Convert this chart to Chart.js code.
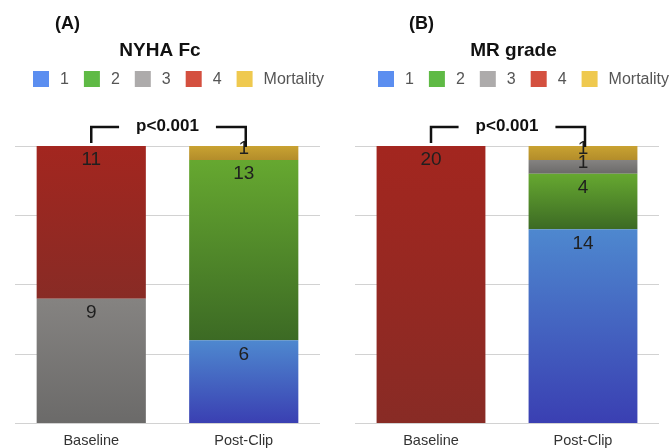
<!DOCTYPE html>
<html>
<head>
<meta charset="utf-8">
<script src="https://cdn.jsdelivr.net/npm/chart.js@4"></script>
<style>
  html, body { margin: 0; padding: 0; background: #fff; overflow: hidden; }
  .wrap { position: relative; width: 670px; height: 448px; }
  .wrap canvas { position: absolute; top: 0; }
</style>
</head>
<body>
<div class="wrap">
  <canvas id="chartA" width="335" height="450" style="left:0"></canvas>
  <canvas id="chartB" width="335" height="450" style="left:335px"></canvas>
</div>
<script>
// data (patients, n = 20)
const categories = ['Baseline', 'Post-Clip'];
const legendLabels = ['1', '2', '3', '4', 'Mortality'];

const nyha1 = [0, 6];
const nyha2 = [0, 13];
const nyha3 = [9, 0];
const nyha4 = [11, 0];
const nyhaMort = [0, 1];

const mr1 = [0, 14];
const mr2 = [0, 4];
const mr3 = [0, 1];
const mr4 = [20, 0];
const mrMort = [0, 1];

const yTicks = [0, 5, 10, 15, 20];
const pValue = 'p<0.001';

// colours: legend swatches are lighter than the shaded bars
const legendColors = ['#5b8ef0', '#5fba45', '#adabab', '#d4503f', '#efc94f'];
const barTop = ['#4e88cf', '#66a830', '#858381', '#a3261f', '#c9a232'];
const barBottom = ['#3a3fb2', '#3c6a24', '#6b6a69', '#882b25', '#b38d2b'];

function segmentFill(k) {
  return function (c) {
    const chart = c.chart;
    const y = chart.scales.y;
    if (!y || c.type !== 'data') return barTop[k];
    const i = c.dataIndex;
    let base = 0;
    for (let d = 0; d < c.datasetIndex; d++) base += chart.data.datasets[d].data[i];
    const v = chart.data.datasets[c.datasetIndex].data[i];
    const y0 = y.getPixelForValue(base + v);
    const y1 = y.getPixelForValue(base);
    if (!isFinite(y0) || !isFinite(y1) || y1 - y0 < 1) return barTop[k];
    const g = chart.ctx.createLinearGradient(0, y0, 0, y1);
    g.addColorStop(0, barTop[k]);
    g.addColorStop(1, barBottom[k]);
    return g;
  };
}

// titles, legend, bracket and value labels
const panelDecor = {
  id: 'panelDecor',
  afterDatasetsDraw(chart, args, o) {
    const ctx = chart.ctx;
    ctx.save();
    ctx.font = '19px "Liberation Sans", Arial, sans-serif';
    ctx.fillStyle = '#1f1f1f';
    ctx.textAlign = 'center';
    ctx.textBaseline = 'middle';
    chart.data.datasets.forEach((ds, d) => {
      chart.getDatasetMeta(d).data.forEach((bar, i) => {
        const v = ds.data[i];
        if (!v) return;
        const h = bar.base - bar.y;
        const cy = h > 30 ? bar.y + 14 : bar.y + 3;
        ctx.fillText(String(v), bar.x, cy);
      });
    });
    ctx.restore();
  },
  afterDraw(chart, args, o) {
    const ctx = chart.ctx;
    ctx.save();
    ctx.fillStyle = '#111';
    ctx.textBaseline = 'alphabetic';

    ctx.font = 'bold 18px "Liberation Sans", Arial, sans-serif';
    ctx.textAlign = 'left';
    ctx.fillText(o.letter, o.letterX, 29);

    ctx.font = 'bold 19px "Liberation Sans", Arial, sans-serif';
    ctx.textAlign = 'center';
    ctx.fillText(o.title, o.titleX, 56);

    // legend
    ctx.font = '16px "Liberation Sans", Arial, sans-serif';
    ctx.textAlign = 'left';
    ctx.textBaseline = 'middle';
    let x = o.legendX;
    legendLabels.forEach((t, k) => {
      ctx.fillStyle = legendColors[k];
      ctx.fillRect(x, 71, 16, 16);
      ctx.fillStyle = '#555';
      ctx.fillText(t, x + 27, 79.5);
      x += 16 + 11 + ctx.measureText(t).width + 15;
    });

    // significance bracket
    const xs = chart.scales.x;
    const xa = xs.getPixelForValue(0), xb = xs.getPixelForValue(1);
    const mid = (xa + xb) / 2;
    ctx.font = 'bold 17px "Liberation Sans", Arial, sans-serif';
    ctx.textAlign = 'center';
    ctx.textBaseline = 'alphabetic';
    ctx.fillStyle = '#111';
    ctx.fillText(pValue, mid, 131);
    const half = ctx.measureText(pValue).width / 2 + 17;
    ctx.strokeStyle = '#111';
    ctx.lineWidth = 2.5;
    ctx.beginPath();
    ctx.moveTo(xa, 143); ctx.lineTo(xa, 127); ctx.lineTo(mid - half, 127);
    ctx.moveTo(mid + half, 127); ctx.lineTo(xb + 2, 127); ctx.lineTo(xb + 2, 147);
    ctx.stroke();
    ctx.restore();
  }
};

function makeChart(id, series, decor, pad) {
  return new Chart(document.getElementById(id), {
    type: 'bar',
    data: {
      labels: categories,
      datasets: series.map((s, k) => ({
        label: legendLabels[k],
        data: s,
        backgroundColor: segmentFill(k),
        borderWidth: 0,
        categoryPercentage: 1,
        barPercentage: 0.716
      }))
    },
    options: {
      responsive: false,
      animation: false,
      devicePixelRatio: 1,
      layout: { padding: pad },
      plugins: {
        legend: { display: false },
        title: { display: false },
        tooltip: { enabled: false },
        panelDecor: decor
      },
      scales: {
        x: {
          stacked: true,
          grid: { display: false, drawTicks: false },
          border: { display: false },
          ticks: { color: '#333', padding: 9, font: { size: 14.5, family: '"Liberation Sans", Arial, sans-serif' } }
        },
        y: {
          stacked: true,
          min: yTicks[0],
          max: yTicks[yTicks.length - 1],
          afterBuildTicks: (s) => { s.ticks = yTicks.map(v => ({ value: v })); },
          grid: { color: '#d2d2d2', drawTicks: false },
          border: { display: false },
          ticks: { display: false }
        }
      }
    },
    plugins: [panelDecor]
  });
}

makeChart('chartA', [nyha1, nyha2, nyha3, nyha4, nyhaMort],
  { letter: '(A)', letterX: 55, title: 'NYHA Fc', titleX: 160, legendX: 33 },
  { top: 146, left: 15, right: 15, bottom: -9 });

makeChart('chartB', [mr1, mr2, mr3, mr4, mrMort],
  { letter: '(B)', letterX: 74, title: 'MR grade', titleX: 178.5, legendX: 43 },
  { top: 146, left: 20, right: 11, bottom: -9 });
</script>
</body>
</html>
